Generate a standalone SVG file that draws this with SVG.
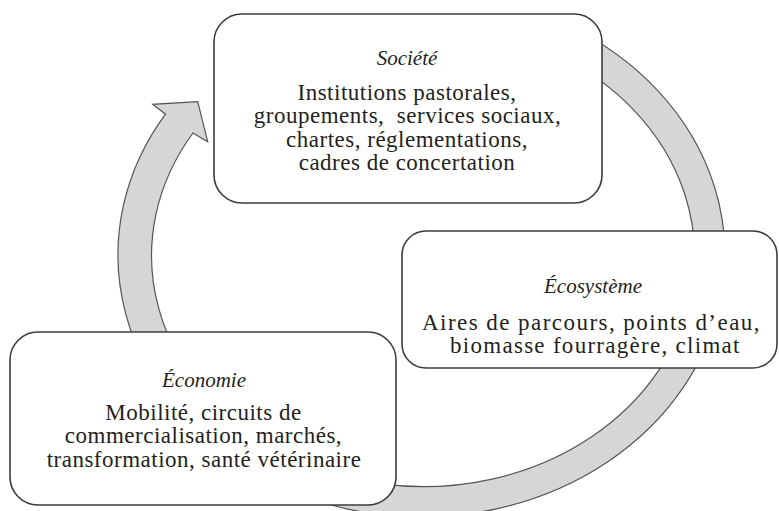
<svg xmlns="http://www.w3.org/2000/svg" width="779" height="511" viewBox="0 0 779 511">
<style>
.box{fill:#ffffff;stroke:#3c3c3c;stroke-width:1.6}
.band{fill:#d6d6d6;stroke:#555555;stroke-width:1.2;stroke-linejoin:miter}
.title{font-family:"Liberation Serif","Times New Roman",serif;font-style:italic;font-size:21px;fill:#231f20;text-anchor:middle}
.body{font-family:"Liberation Serif","Times New Roman",serif;font-size:23px;letter-spacing:0.5px;fill:#231f20;text-anchor:middle}
</style>
<rect width="779" height="511" fill="#ffffff"/>
<g id="connectors">
<path class="band" d="M570,26.5 A303.5,262 0 1 1 165.5,114.2 L152.7,104.3 L197.7,101.7 L207.7,141.7 L193,133 A271.5,231 0 1 0 554.4,53.5 Z"/>
</g>
<g id="societe">
<rect class="box" x="214" y="14" width="388" height="189" rx="28" ry="28"/>
<text class="title" x="407" y="65">Société</text>
<text class="body" x="407" y="99.5">Institutions pastorales,</text>
<text class="body" x="407.5" y="123" xml:space="preserve">groupements,  services sociaux,</text>
<text class="body" x="407" y="146.5">chartes, réglementations,</text>
<text class="body" x="407" y="170">cadres de concertation</text>
</g>
<g id="ecosysteme">
<rect class="box" x="402" y="231" width="375" height="137" rx="24" ry="24"/>
<text class="title" x="593" y="293">Écosystème</text>
<text class="body" x="591" y="329.5" textLength="338" lengthAdjust="spacing">Aires de parcours, points d’eau,</text>
<text class="body" x="595" y="352.5" textLength="290" lengthAdjust="spacing">biomasse fourragère, climat</text>
</g>
<g id="economie">
<rect class="box" x="10" y="332" width="386" height="173" rx="28" ry="28"/>
<text class="title" x="204" y="387">Économie</text>
<text class="body" x="203.5" y="419.5">Mobilité, circuits de</text>
<text class="body" x="203.5" y="443">commercialisation, marchés,</text>
<text class="body" x="204" y="466.5">transformation, santé vétérinaire</text>
</g>
</svg>
